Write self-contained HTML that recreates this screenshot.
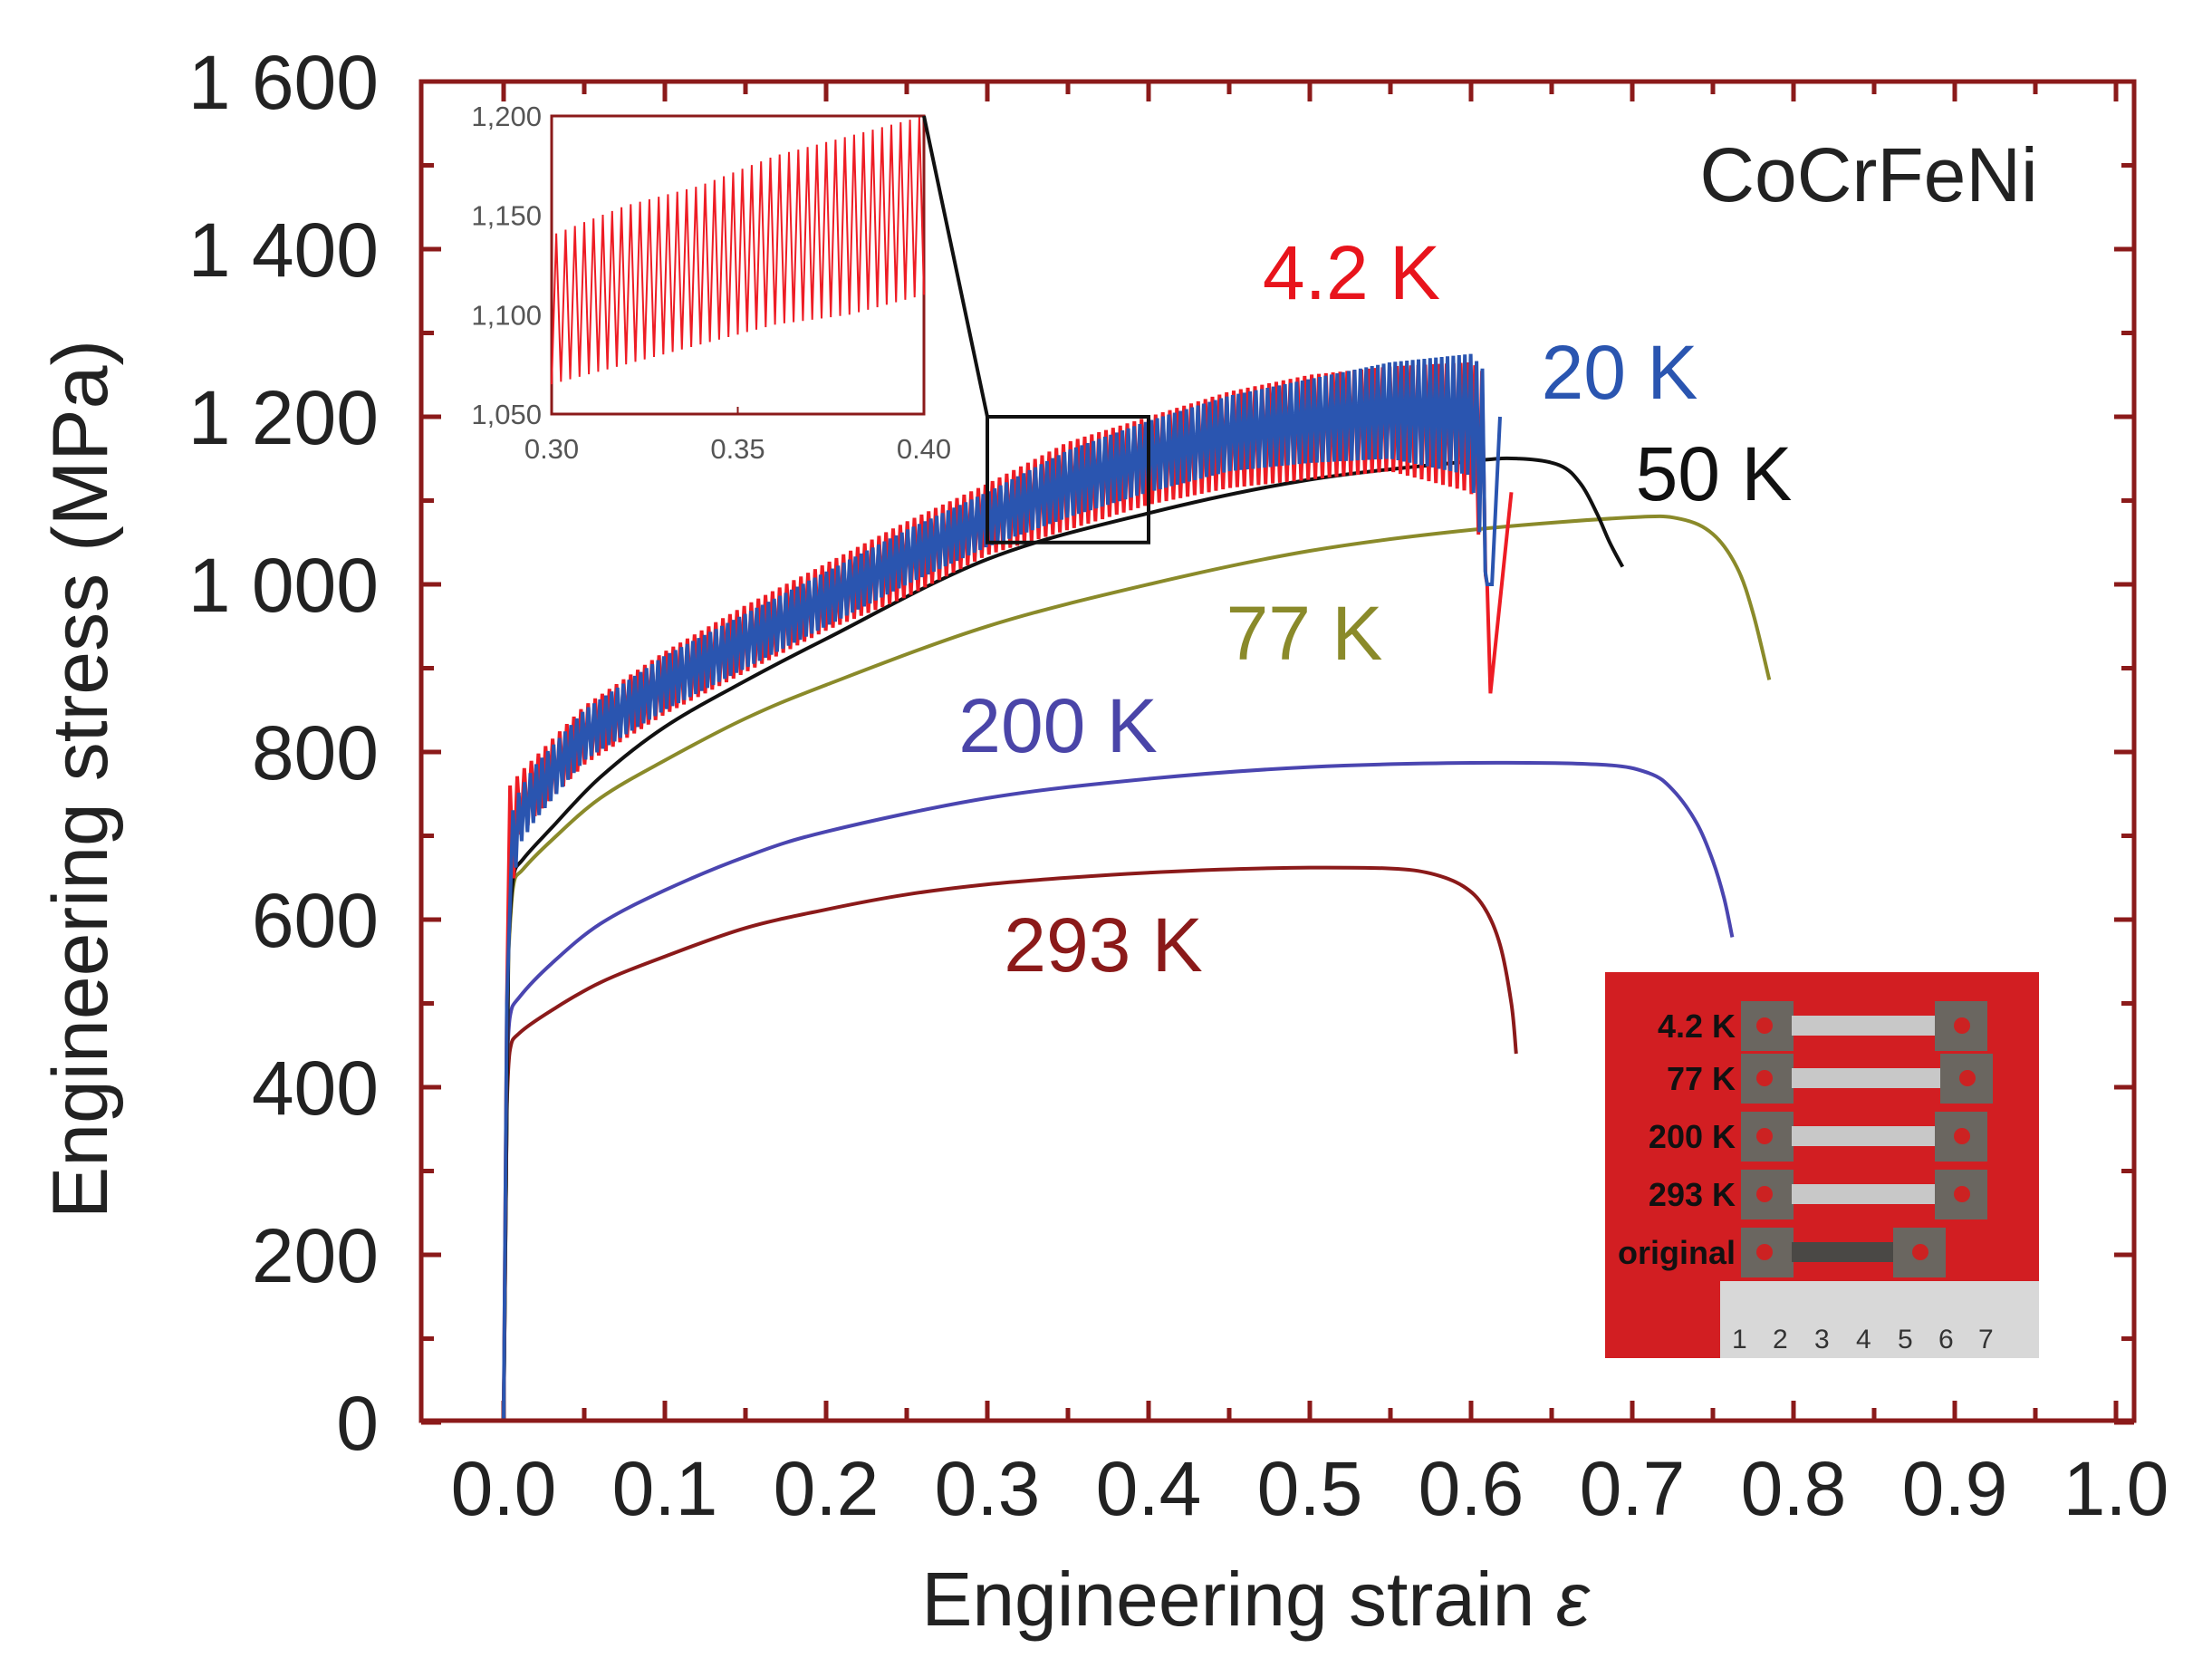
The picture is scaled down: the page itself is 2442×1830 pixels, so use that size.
<!DOCTYPE html>
<html><head><meta charset="utf-8"><style>
html,body{margin:0;padding:0;background:#fff;}
svg{display:block;font-family:"Liberation Sans",Arial,sans-serif;}
</style></head><body>
<svg id="chart" width="2442" height="1830" viewBox="0 0 2442 1830" xmlns="http://www.w3.org/2000/svg">
<rect x="0" y="0" width="2442" height="1830" fill="#fff"/>
<g id="ticks"></g>
<g id="curves"></g>
<g id="inset"></g>
<rect x="465" y="90" width="1891" height="1478" fill="none" stroke="#8b1a1a" stroke-width="5"/>
<text transform="translate(118,860) rotate(-90)" text-anchor="middle" font-size="86" fill="#222">Engineering stress (MPa)</text>
<text x="1386" y="1794" text-anchor="middle" font-size="84" fill="#222">Engineering strain <tspan font-style="italic">ε</tspan></text>
<text x="2063" y="222" text-anchor="middle" font-size="84" fill="#222">CoCrFeNi</text>
<text x="1492" y="330" text-anchor="middle" font-size="84" fill="#e8141c">4.2 K</text>
<text x="1788" y="440" text-anchor="middle" font-size="84" fill="#2a55b0">20 K</text>
<text x="1892" y="552" text-anchor="middle" font-size="84" fill="#111">50 K</text>
<text x="1440" y="728" text-anchor="middle" font-size="84" fill="#8a8a2a">77 K</text>
<text x="1168" y="830" text-anchor="middle" font-size="84" fill="#4a45a8">200 K</text>
<text x="1218" y="1072" text-anchor="middle" font-size="84" fill="#8b1a1a">293 K</text>
<g>
<rect x="1772" y="1073" width="479" height="426" fill="#d21e22"/>
<rect x="1899" y="1414" width="352" height="85" fill="#d8d8d8"/>
<g fill="#333" font-size="30">
<text x="1912" y="1488">1</text><text x="1957" y="1488">2</text><text x="2003" y="1488">3</text><text x="2049" y="1488">4</text><text x="2095" y="1488">5</text><text x="2140" y="1488">6</text><text x="2184" y="1488">7</text>
</g>
<g id="specimens"></g>
</g>
</svg>
<script>
// ---- data ----
const yTickVals=[0,200,400,600,800,1000,1200,1400,1600];
const yTickLabels=["0","200","400","600","800","1 000","1 200","1 400","1 600"];
const xTickVals=[0,0.1,0.2,0.3,0.4,0.5,0.6,0.7,0.8,0.9,1.0];
const xTickLabels=["0.0","0.1","0.2","0.3","0.4","0.5","0.6","0.7","0.8","0.9","1.0"];
const s293=[0,0.002,0.004,0.01,0.03,0.06,0.1,0.15,0.2,0.25,0.3,0.35,0.4,0.45,0.5,0.55,0.575,0.595,0.608,0.618,0.625,0.628];
const v293=[0,380,445,465,492,525,556,590,612,630,642,650,656,660,662,661,655,640,615,570,500,440];
const s200=[0,0.002,0.004,0.01,0.03,0.06,0.1,0.15,0.2,0.3,0.4,0.5,0.6,0.68,0.71,0.725,0.74,0.75,0.757,0.762];
const v200=[0,420,485,508,548,595,635,675,705,745,768,782,787,785,775,755,715,670,625,579];
const s77=[0,0.003,0.006,0.012,0.03,0.06,0.1,0.15,0.2,0.3,0.4,0.5,0.6,0.7,0.73,0.75,0.765,0.775,0.785];
const v77=[0,560,640,660,695,745,790,840,880,950,1000,1040,1065,1080,1078,1060,1020,965,886];
const s50=[0,0.003,0.006,0.012,0.03,0.06,0.1,0.15,0.2,0.3,0.4,0.5,0.6,0.63,0.655,0.668,0.678,0.686,0.694];
const v50=[0,570,650,672,710,770,830,885,935,1030,1085,1125,1147,1150,1142,1120,1085,1050,1021];
const envStrain=[0.004,0.01,0.02,0.05,0.1,0.15,0.2,0.25,0.3,0.35,0.4,0.45,0.5,0.55,0.6,0.61];
const redUpper=[760,775,795,855,920,975,1025,1075,1120,1170,1200,1230,1250,1260,1265,1250];
const redLower=[620,700,725,785,845,895,945,985,1035,1065,1095,1115,1125,1135,1110,1000];
const blueUpper=[720,755,785,850,915,965,1015,1065,1110,1160,1195,1225,1245,1265,1275,1250];
const blueLower=[620,690,720,790,850,900,950,1000,1045,1080,1110,1135,1145,1150,1130,1000];
const redTailS=[0.61,0.612,0.625];
const redTailV=[1000,870,1110];
const blueTailS=[0.61,0.613,0.618];
const blueTailV=[1000,1000,1200];
const insetStrain=[0.30,0.32,0.34,0.36,0.38,0.40];
const insetUpper=[1140,1155,1165,1180,1190,1200];
const insetLower=[1065,1075,1085,1095,1100,1110];

// ---- axes ----
const X=v=>556+v*1780;
const Y=v=>1570-v*0.925;
const NS="http://www.w3.org/2000/svg";
function mk(tag,attrs,parent){const e=document.createElementNS(NS,tag);for(const k in attrs)e.setAttribute(k,attrs[k]);parent.appendChild(e);return e;}
const tk=document.getElementById('ticks');
const TC="#8b1a1a";
for(let v=0;v<=1600;v+=100){const y=Y(v);const L=(v%200===0)?22:14;
 mk('line',{x1:465,x2:465+L,y1:y,y2:y,stroke:TC,'stroke-width':5},tk);
 mk('line',{x1:2356,x2:2356-L,y1:y,y2:y,stroke:TC,'stroke-width':5},tk);}
for(let i=0;i<=20;i++){const v=i*0.05;const x=X(v);const L=(i%2===0)?22:14;
 mk('line',{x1:x,x2:x,y1:1568,y2:1568-L,stroke:TC,'stroke-width':5},tk);
 mk('line',{x1:x,x2:x,y1:90,y2:90+L,stroke:TC,'stroke-width':5},tk);}
yTickVals.forEach((v,i)=>{const t=mk('text',{x:418,y:Y(v)+30,'text-anchor':'end','font-size':84,fill:'#222'},tk);
 
 
 t.textContent=yTickLabels[i];});
xTickVals.forEach((v,i)=>{const t=mk('text',{x:X(v),y:1672,'text-anchor':'middle','font-size':84,fill:'#222'},tk);
 
 
 t.textContent=xTickLabels[i];});

// ---- curves ----
const cv=document.getElementById('curves');
function smoothPath(pts){let d='M'+pts[0][0].toFixed(1)+','+pts[0][1].toFixed(1);
 for(let i=0;i<pts.length-1;i++){const p0=pts[Math.max(0,i-1)],p1=pts[i],p2=pts[i+1],p3=pts[Math.min(pts.length-1,i+2)];
  const c1=[p1[0]+(p2[0]-p0[0])/6,p1[1]+(p2[1]-p0[1])/6],c2=[p2[0]-(p3[0]-p1[0])/6,p2[1]-(p3[1]-p1[1])/6];
  d+='C'+c1[0].toFixed(1)+','+c1[1].toFixed(1)+' '+c2[0].toFixed(1)+','+c2[1].toFixed(1)+' '+p2[0].toFixed(1)+','+p2[1].toFixed(1);}
 return d;}
function line(sA,vA,color,name,w){const pts=sA.map((s,i)=>[X(s),Y(vA[i])]);
 const d='M'+pts[0][0]+','+pts[0][1]+'L'+pts[1][0]+','+pts[1][1]+smoothPath(pts.slice(1)).replace(/^M[^C]*/,'');
 const p=mk('path',{d:d,fill:'none',stroke:color,'stroke-width':w||4,'stroke-linejoin':'round'},cv);
 
 return p;}
function interp(xs,ys,x){for(let i=1;i<xs.length;i++){if(x<=xs[i]){const t=(x-xs[i-1])/(xs[i]-xs[i-1]);return ys[i-1]+t*(ys[i]-ys[i-1]);}}return ys[ys.length-1];}
function serr(up,lo,tailS,tailV,color,name,step,off){
 let d='M'+X(0)+','+Y(0)+'L'+X(0.002)+','+Y(500);
 let k=off;
 for(let s=envStrain[0];s<=envStrain[envStrain.length-1];s+=step){const v=(k%2===0)?interp(envStrain,up,s):interp(envStrain,lo,s);k++;
  d+='L'+X(s).toFixed(1)+','+Y(v).toFixed(1);}
 tailS.forEach((s,i)=>{d+='L'+X(s).toFixed(1)+','+Y(tailV[i]).toFixed(1);});
 const p=mk('path',{d:d,fill:'none',stroke:color,'stroke-width':4,'stroke-linejoin':'miter'},cv);
 
 }
line(s293,v293,'#8b1a1a','curve-293k');
line(s200,v200,'#4a45b0','curve-200k');
line(s77,v77,'#8a8a2a','curve-77k');
line(s50,v50,'#111','curve-50k');
serr(redUpper,redLower,redTailS,redTailV,'#ee1c24','curve-4-2k',0.0022,0);
serr(blueUpper,blueLower,blueTailS,blueTailV,'#2a55b0','curve-20k',0.0018,1);

// ---- zoom box & inset ----
const ins=document.getElementById('inset');
const zb=mk('rect',{x:X(0.3),y:Y(1200),width:X(0.4)-X(0.3),height:Y(1050)-Y(1200),fill:'none',stroke:'#111','stroke-width':4},ins);


const IX=v=>609+(v-0.3)*4110, IY=v=>457-(v-1050)*2.193;
const ib=mk('rect',{x:609,y:128,width:411,height:329,fill:'#fff',stroke:'#8b1a1a','stroke-width':3},ins);


const cl=mk('line',{x1:1020,y1:128,x2:X(0.3),y2:Y(1200),stroke:'#111','stroke-width':4},ins);


[1050,1100,1150,1200].forEach(v=>{const t=mk('text',{x:598,y:IY(v)+11,'text-anchor':'end','font-size':31,fill:'#555'},ins);
 
 
 t.textContent=v.toLocaleString('en-US');});
[0.30,0.35,0.40].forEach(v=>{const t=mk('text',{x:IX(v),y:506,'text-anchor':'middle','font-size':31,fill:'#555'},ins);
 
 
 t.textContent=v.toFixed(2);
 mk('line',{x1:IX(v),x2:IX(v),y1:457,y2:449,stroke:'#8b1a1a','stroke-width':2},ins);});
let d='';let k=0;
for(let s=0.3;s<=0.4001;s+=0.00125){const v=(k%2===0)?interp(insetStrain,insetLower,s):interp(insetStrain,insetUpper,s);k++;
 d+=(d?'L':'M')+IX(s).toFixed(1)+','+IY(v).toFixed(1);}
const ip=mk('path',{d:d,fill:'none',stroke:'#ee1c24','stroke-width':2},ins);



// ---- specimens ----
const sp=document.getElementById('specimens');
const rows=[["4.2 K",1105,2194],["77 K",1163,2200],["200 K",1227,2194],["293 K",1291,2194],["original",1355,2148]];
rows.forEach(r=>{const y=r[1],x2=r[2];
 const t=mk('text',{x:1916,y:y+40,'text-anchor':'end','font-size':36,'font-weight':'bold',fill:'#111'},sp);
 
 
 t.textContent=r[0];
 mk('rect',{x:1922,y:y,width:58,height:55,fill:'#6a6660'},sp);
 mk('rect',{x:x2-58,y:y,width:58,height:55,fill:'#6a6660'},sp);
 mk('rect',{x:1978,y:y+16,width:x2-2036,height:22,fill:r[0]==='original'?'#4a4845':'#c8c8c8'},sp);
 mk('circle',{cx:1948,cy:y+27,r:9,fill:'#c22'},sp);
 mk('circle',{cx:x2-28,cy:y+27,r:9,fill:'#c22'},sp);});
</script>
</body></html>
